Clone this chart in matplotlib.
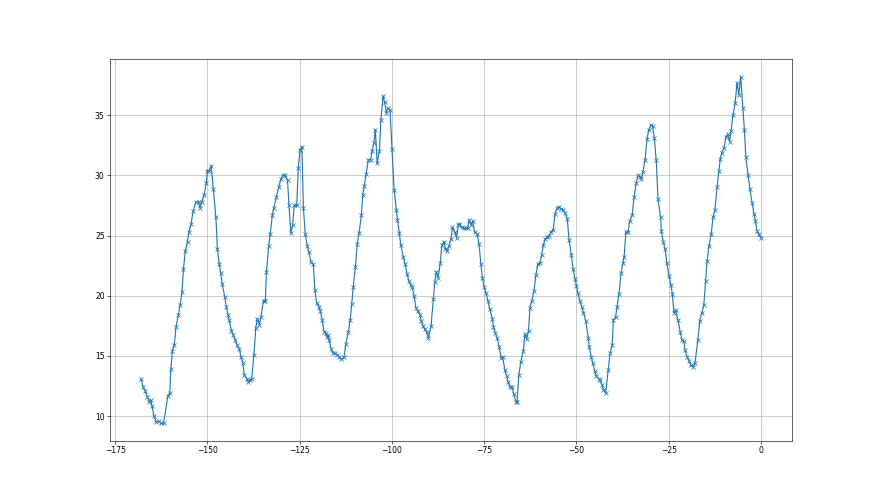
"""
Line plot of the signal against the offset (x markers on each sample).
"""
import matplotlib
matplotlib.use('Agg')
import matplotlib.pyplot as plt

# offset values
offset = [
    -168.0, -167.4, -166.9, -166.3, -165.7, -165.3, -165.0, -164.5, -163.9, -163.2,
    -162.6, -161.9, -160.7, -160.2, -159.9, -159.5, -159.0, -158.5, -157.9, -157.4,
    -156.9, -156.5, -156.0, -155.4, -155.0, -154.4, -153.9, -153.1, -152.4, -152.0,
    -151.5, -150.9, -150.3, -150.0, -149.5, -149.0, -148.4, -147.7, -147.3, -146.8,
    -146.4, -146.0, -145.3, -144.9, -144.4, -144.1, -143.5, -143.0, -142.4, -142.0,
    -141.4, -140.9, -140.4, -140.0, -139.3, -138.9, -138.5, -138.0, -137.4, -136.9,
    -136.5, -135.9, -135.5, -134.8, -134.3, -134.0, -133.4, -133.0, -132.4, -132.0,
    -131.3, -130.7, -130.1, -129.6, -129.1, -128.3, -127.9, -127.4, -126.9, -126.5,
    -125.8, -125.4, -124.9, -124.4, -124.0, -123.5, -122.9, -122.5, -121.9, -121.3,
    -120.9, -120.4, -119.8, -119.4, -118.9, -118.4, -117.9, -117.7, -117.3, -117.0,
    -116.5, -115.9, -115.4, -114.8, -114.3, -113.7, -113.0, -112.5, -111.8, -111.3,
    -110.9, -110.5, -109.9, -109.4, -108.9, -108.3, -107.9, -107.5, -107.0, -106.4,
    -105.8, -105.4, -104.9, -104.5, -104.0, -103.4, -103.0, -102.4, -102.0, -101.5,
    -101.1, -100.5, -100.0, -99.4, -98.8, -98.5, -98.0, -97.6, -96.9, -96.4,
    -95.9, -95.4, -94.9, -94.5, -94.0, -93.5, -93.0, -92.4, -92.1, -91.6,
    -91.1, -90.6, -90.1, -89.4, -88.8, -88.4, -88.0, -87.5, -86.9, -86.5,
    -85.9, -85.5, -85.0, -84.6, -84.0, -83.6, -83.0, -82.5, -82.0, -81.7,
    -81.1, -80.6, -80.0, -79.5, -79.1, -78.6, -78.1, -77.6, -76.9, -76.4,
    -75.9, -75.5, -75.0, -74.5, -74.0, -73.5, -72.8, -72.5, -72.0, -71.5,
    -70.9, -70.4, -70.0, -69.4, -68.9, -68.5, -68.0, -67.4, -67.0, -66.4,
    -66.1, -65.6, -65.1, -64.4, -64.0, -63.5, -63.0, -62.6, -62.1, -61.5,
    -61.0, -60.5, -59.9, -59.4, -59.0, -58.5, -57.9, -57.4, -56.9, -56.3,
    -55.8, -55.2, -54.7, -54.2, -53.6, -53.1, -52.5, -52.0, -51.4, -50.9,
    -50.4, -50.0, -49.6, -49.1, -48.6, -48.1, -47.5, -46.8, -46.5, -46.0,
    -45.6, -45.0, -44.6, -43.9, -43.6, -43.1, -42.7, -42.1, -41.4, -40.9,
    -40.3, -40.0, -39.4, -39.0, -38.5, -37.9, -37.4, -37.1, -36.6, -36.0,
    -35.6, -34.9, -34.4, -33.8, -33.3, -32.8, -32.4, -32.0, -31.4, -30.9,
    -30.4, -29.9, -29.4, -28.9, -28.4, -27.9, -27.2, -27.0, -26.5, -26.0,
    -25.5, -24.9, -24.4, -24.0, -23.6, -23.1, -22.5, -21.9, -21.4, -20.9,
    -20.6, -20.0, -19.5, -19.0, -18.4, -17.9, -17.1, -16.6, -16.0, -15.5,
    -15.0, -14.6, -14.1, -13.5, -13.0, -12.5, -11.9, -11.4, -11.0, -10.6,
    -10.0, -9.5, -9.0, -8.5, -8.1, -7.6, -7.0, -6.5, -6.0, -5.5,
    -4.9, -4.5, -4.1, -3.5, -3.0, -2.4, -1.9, -1.5, -1.1, -0.6,
    0.0,
]

# measured signal
signal = [
    13.1, 12.4, 12.1, 11.6, 11.2, 11.3, 10.8, 10.0, 9.5, 9.6,
    9.4, 9.4, 11.7, 11.9, 13.9, 15.4, 15.9, 17.4, 18.4, 19.2,
    20.3, 22.2, 23.7, 24.5, 25.3, 26.0, 27.0, 27.8, 27.8, 27.3,
    27.8, 28.4, 29.4, 30.4, 30.4, 30.8, 28.9, 26.5, 23.9, 22.6,
    21.9, 21.0, 19.9, 19.1, 18.4, 18.0, 17.1, 16.7, 16.3, 15.9,
    15.6, 14.9, 14.4, 13.4, 13.1, 12.8, 13.0, 13.1, 15.1, 17.3,
    18.1, 17.6, 18.2, 19.6, 19.6, 22.0, 24.1, 25.1, 26.7, 27.3,
    28.2, 29.0, 29.7, 30.0, 30.0, 29.6, 27.5, 25.2, 25.9, 27.5,
    27.5, 30.6, 32.1, 32.4, 27.3, 25.1, 24.1, 23.6, 22.8, 22.6,
    20.5, 19.4, 19.1, 18.7, 18.0, 17.0, 16.9, 16.6, 16.7, 16.3,
    15.6, 15.2, 15.2, 15.1, 14.9, 14.7, 14.9, 16.0, 17.0, 18.0,
    19.3, 20.7, 22.4, 24.3, 25.2, 26.7, 28.4, 29.1, 30.1, 31.3,
    31.3, 32.0, 32.7, 33.8, 31.0, 32.0, 34.6, 36.6, 36.1, 35.2,
    35.6, 35.4, 32.2, 28.8, 27.1, 26.3, 25.2, 24.2, 23.2, 22.6,
    21.8, 21.2, 20.9, 20.7, 20.0, 19.0, 18.7, 18.4, 17.9, 17.5,
    17.2, 17.0, 16.5, 17.5, 19.7, 21.1, 22.0, 21.5, 22.7, 24.2,
    24.5, 23.9, 23.7, 24.1, 24.7, 25.7, 25.3, 24.8, 25.9, 26.0,
    25.7, 25.6, 25.6, 25.6, 26.3, 25.9, 26.2, 25.3, 25.1, 24.3,
    22.6, 21.5, 20.7, 20.2, 19.6, 18.9, 18.1, 17.4, 16.9, 16.5,
    15.7, 14.8, 14.9, 13.8, 13.3, 12.8, 12.4, 12.4, 11.8, 11.2,
    11.2, 13.4, 14.5, 15.4, 16.8, 16.4, 17.1, 19.0, 19.6, 20.4,
    21.7, 22.6, 22.7, 23.4, 24.2, 24.7, 24.9, 25.0, 25.3, 25.5,
    26.8, 27.3, 27.4, 27.2, 27.1, 26.9, 26.4, 24.6, 23.4, 22.2,
    21.4, 20.8, 20.2, 19.6, 19.1, 18.6, 17.9, 16.5, 15.7, 14.9,
    14.4, 13.7, 13.3, 13.1, 13.0, 12.6, 12.2, 11.9, 13.8, 15.2,
    15.9, 18.0, 18.2, 19.1, 20.1, 21.9, 22.7, 23.2, 25.3, 25.3,
    26.2, 26.7, 28.2, 29.4, 30.0, 29.9, 29.7, 30.3, 31.3, 33.0,
    33.8, 34.2, 34.1, 33.1, 31.3, 28.0, 26.5, 25.4, 24.5, 23.9,
    22.7, 21.6, 20.9, 20.1, 18.6, 18.8, 18.0, 17.0, 16.3, 16.2,
    15.5, 14.9, 14.6, 14.2, 14.1, 14.4, 16.3, 17.9, 18.6, 19.2,
    21.2, 22.9, 24.1, 25.1, 26.5, 27.1, 29.0, 30.4, 31.4, 31.9,
    32.3, 33.2, 33.4, 32.8, 33.7, 35.0, 36.0, 37.7, 36.7, 38.2,
    35.6, 33.8, 31.5, 30.0, 28.9, 27.7, 26.8, 26.2, 25.4, 25.1,
    24.8,
]

# the original was drawn at 16x9 inches, saved small
fig = plt.figure(figsize=(16, 9), dpi=55)
ax = fig.add_subplot(111)
ax.plot(offset, signal, marker='x')
ax.grid(True)

fig.savefig('out.png', dpi=55)
